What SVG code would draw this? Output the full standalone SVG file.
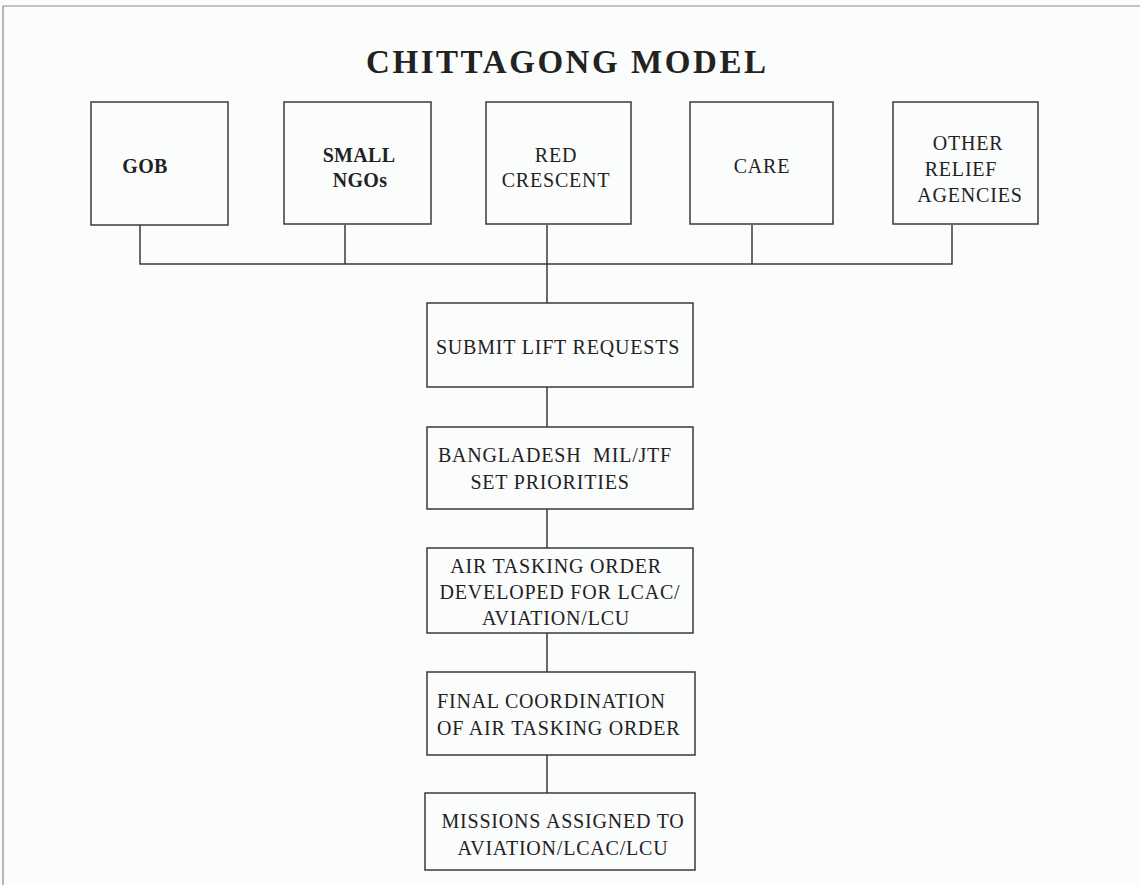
<svg xmlns="http://www.w3.org/2000/svg" width="1140" height="885" viewBox="0 0 1140 885">
<style>
.box{fill:none;stroke:#3a3a3a;stroke-width:1.5}
.t{font-family:"Liberation Serif","Times New Roman",serif;font-size:20px;fill:#222;letter-spacing:0.8px;white-space:pre}
.m{text-anchor:middle}
.b{font-weight:bold;letter-spacing:0.3px}
.c{fill:none;stroke:#3a3a3a;stroke-width:1.5}
.frame{fill:none;stroke:#8a8a8a;stroke-width:1.2}
</style>
<rect width="1140" height="885" fill="#fbfcfc"/>
<path class="frame" d="M3,885 V6 H1140"/>
<text x="566" y="73" font-family="'Liberation Serif','Times New Roman',serif" font-size="33" font-weight="bold" fill="#222" text-anchor="middle" textLength="400" lengthAdjust="spacing">CHITTAGONG MODEL</text>
<g id="connectors">
<path class="c" d="M140,225 V264 H952 V225"/>
<path class="c" d="M345,225 V264"/>
<path class="c" d="M752,225 V264"/>
<path class="c" d="M547,225 V303"/>
<path class="c" d="M547,387 V427"/>
<path class="c" d="M547,509 V548"/>
<path class="c" d="M547,633 V672"/>
<path class="c" d="M547,755 V793"/>
</g>
<g id="gob">
<rect class="box" x="91" y="102" width="137" height="123"/>
<text class="t b m" x="145" y="173">GOB</text>
</g>
<g id="small-ngos">
<rect class="box" x="284" y="102" width="147" height="122"/>
<text class="t b m" x="359" y="162">SMALL</text>
<text class="t b m" x="360" y="187">NGOs</text>
</g>
<g id="red-crescent">
<rect class="box" x="486" y="102" width="145" height="122"/>
<text class="t m" x="556" y="162">RED</text>
<text class="t m" x="556" y="187">CRESCENT</text>
</g>
<g id="care">
<rect class="box" x="690" y="102" width="143" height="122"/>
<text class="t m" x="762" y="173">CARE</text>
</g>
<g id="other-relief-agencies">
<rect class="box" x="893" y="102" width="145" height="122"/>
<text class="t m" x="968" y="150">OTHER</text>
<text class="t m" x="961" y="176">RELIEF</text>
<text class="t m" x="970" y="202">AGENCIES</text>
</g>
<g id="submit">
<rect class="box" x="427" y="303" width="266" height="84"/>
<text class="t m" x="558" y="354">SUBMIT LIFT REQUESTS</text>
</g>
<g id="priorities">
<rect class="box" x="427" y="427" width="266" height="82"/>
<text class="t m" x="555" y="462">BANGLADESH  MIL/JTF</text>
<text class="t m" x="550" y="489">SET PRIORITIES</text>
</g>
<g id="ato">
<rect class="box" x="427" y="548" width="266" height="85"/>
<text class="t m" x="556" y="573">AIR TASKING ORDER</text>
<text class="t m" x="560" y="599">DEVELOPED FOR LCAC/</text>
<text class="t m" x="556" y="625">AVIATION/LCU</text>
</g>
<g id="final">
<rect class="box" x="427" y="672" width="268" height="83"/>
<text class="t" x="437" y="708">FINAL COORDINATION</text>
<text class="t" x="437" y="735">OF AIR TASKING ORDER</text>
</g>
<g id="missions">
<rect class="box" x="425" y="793" width="270" height="77"/>
<text class="t m" x="563" y="828">MISSIONS ASSIGNED TO</text>
<text class="t m" x="563" y="855">AVIATION/LCAC/LCU</text>
</g>
</svg>
